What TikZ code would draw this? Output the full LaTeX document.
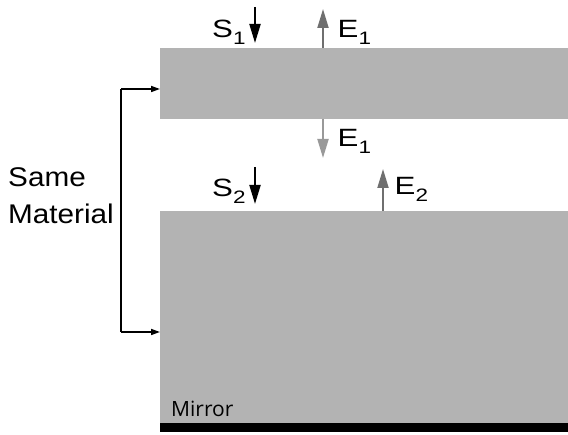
\documentclass[tikz,border=0pt]{standalone}
\usepackage{graphicx}
\usepackage{fontspec}
\setmainfont{Liberation Sans}
\newfontfamily\mirrorfont{Open Sans}
\usetikzlibrary{arrows.meta}
\definecolor{slabgray}{HTML}{B3B3B3}
\definecolor{beamdark}{HTML}{6F6F6F}
\definecolor{beamlight}{HTML}{999999}
% wide sans labels with a lowered index
\newcommand{\widelbl}[2]{\scalebox{1.25}[1]{#1\raisebox{-7pt}{\fontsize{18}{18}\selectfont #2}}}
\tikzset{
  slab/.style={fill=slabgray, draw=none, inner sep=0pt, anchor=north west},
  lbl/.style={font=\fontsize{25}{28}\selectfont, inner sep=0pt, anchor=base west},
  beam/.style={line width=2pt, -{Triangle[length=19pt,width=11pt]}},
  brace/.style={line width=1.6pt, -{Triangle[length=9pt,width=6pt]}},
}
\begin{document}
\begin{tikzpicture}[x=1pt,y=-1pt]
\useasboundingbox (0,0) rectangle (568,435);
% two slabs of the same material and the mirror below
\node[slab, minimum width=408pt, minimum height=71pt] (top) at (160,48) {};
\node[slab, minimum width=408pt, minimum height=212pt] (bottom) at (160,211) {};
\node[fill=black, inner sep=0pt, anchor=north west, minimum width=408pt, minimum height=9pt] (mirror) at (160,423) {};
\node[font=\mirrorfont\fontsize{21}{24}\selectfont, inner sep=0pt, anchor=base west] (mirrorlbl) at (171,417) {Mirror};

% beams on the upper slab
\coordinate (s1a) at (255,7);
\coordinate (s1b) at (255,43);
\draw[beam, black] (s1a) -- (s1b);
\node[lbl] (s1) at (212,38) {\widelbl{S}{1}};
\coordinate (e1a) at (323,48);
\coordinate (e1b) at (323,9);
\draw[beam, beamdark] (e1a) -- (e1b);
\node[lbl] (e1) at (337.5,38) {\widelbl{E}{1}};

% beam between the slabs
\coordinate (e1c) at (323,119);
\coordinate (e1d) at (323,158);
\draw[beam, beamlight] (e1c) -- (e1d);
\node[lbl] (e1low) at (337.5,147) {\widelbl{E}{1}};

% beams on the lower slab
\coordinate (s2a) at (255,167);
\coordinate (s2b) at (255,204);
\draw[beam, black] (s2a) -- (s2b);
\node[lbl] (s2) at (212,197) {\widelbl{S}{2}};
\coordinate (e2a) at (383,211);
\coordinate (e2b) at (383,169);
\draw[beam, beamdark] (e2a) -- (e2b);
\node[lbl] (e2) at (394.5,195) {\widelbl{E}{2}};

% bracket tying both slabs together
\coordinate (bt) at (121,89);
\coordinate (bb) at (121,332);
\draw[brace] (bt) -- (top.west |- bt);
\draw[brace] (bb) -- (bottom.west |- bb);
\draw[line width=1.6pt] (bt) -- (bb);
\node[inner sep=0pt, anchor=base west, align=left, font=\fontsize{27}{37}\selectfont] (same) at (8,224) {\scalebox{1.1}[1]{Same}\\\scalebox{1.1}[1]{Material}};
\end{tikzpicture}
\end{document}
